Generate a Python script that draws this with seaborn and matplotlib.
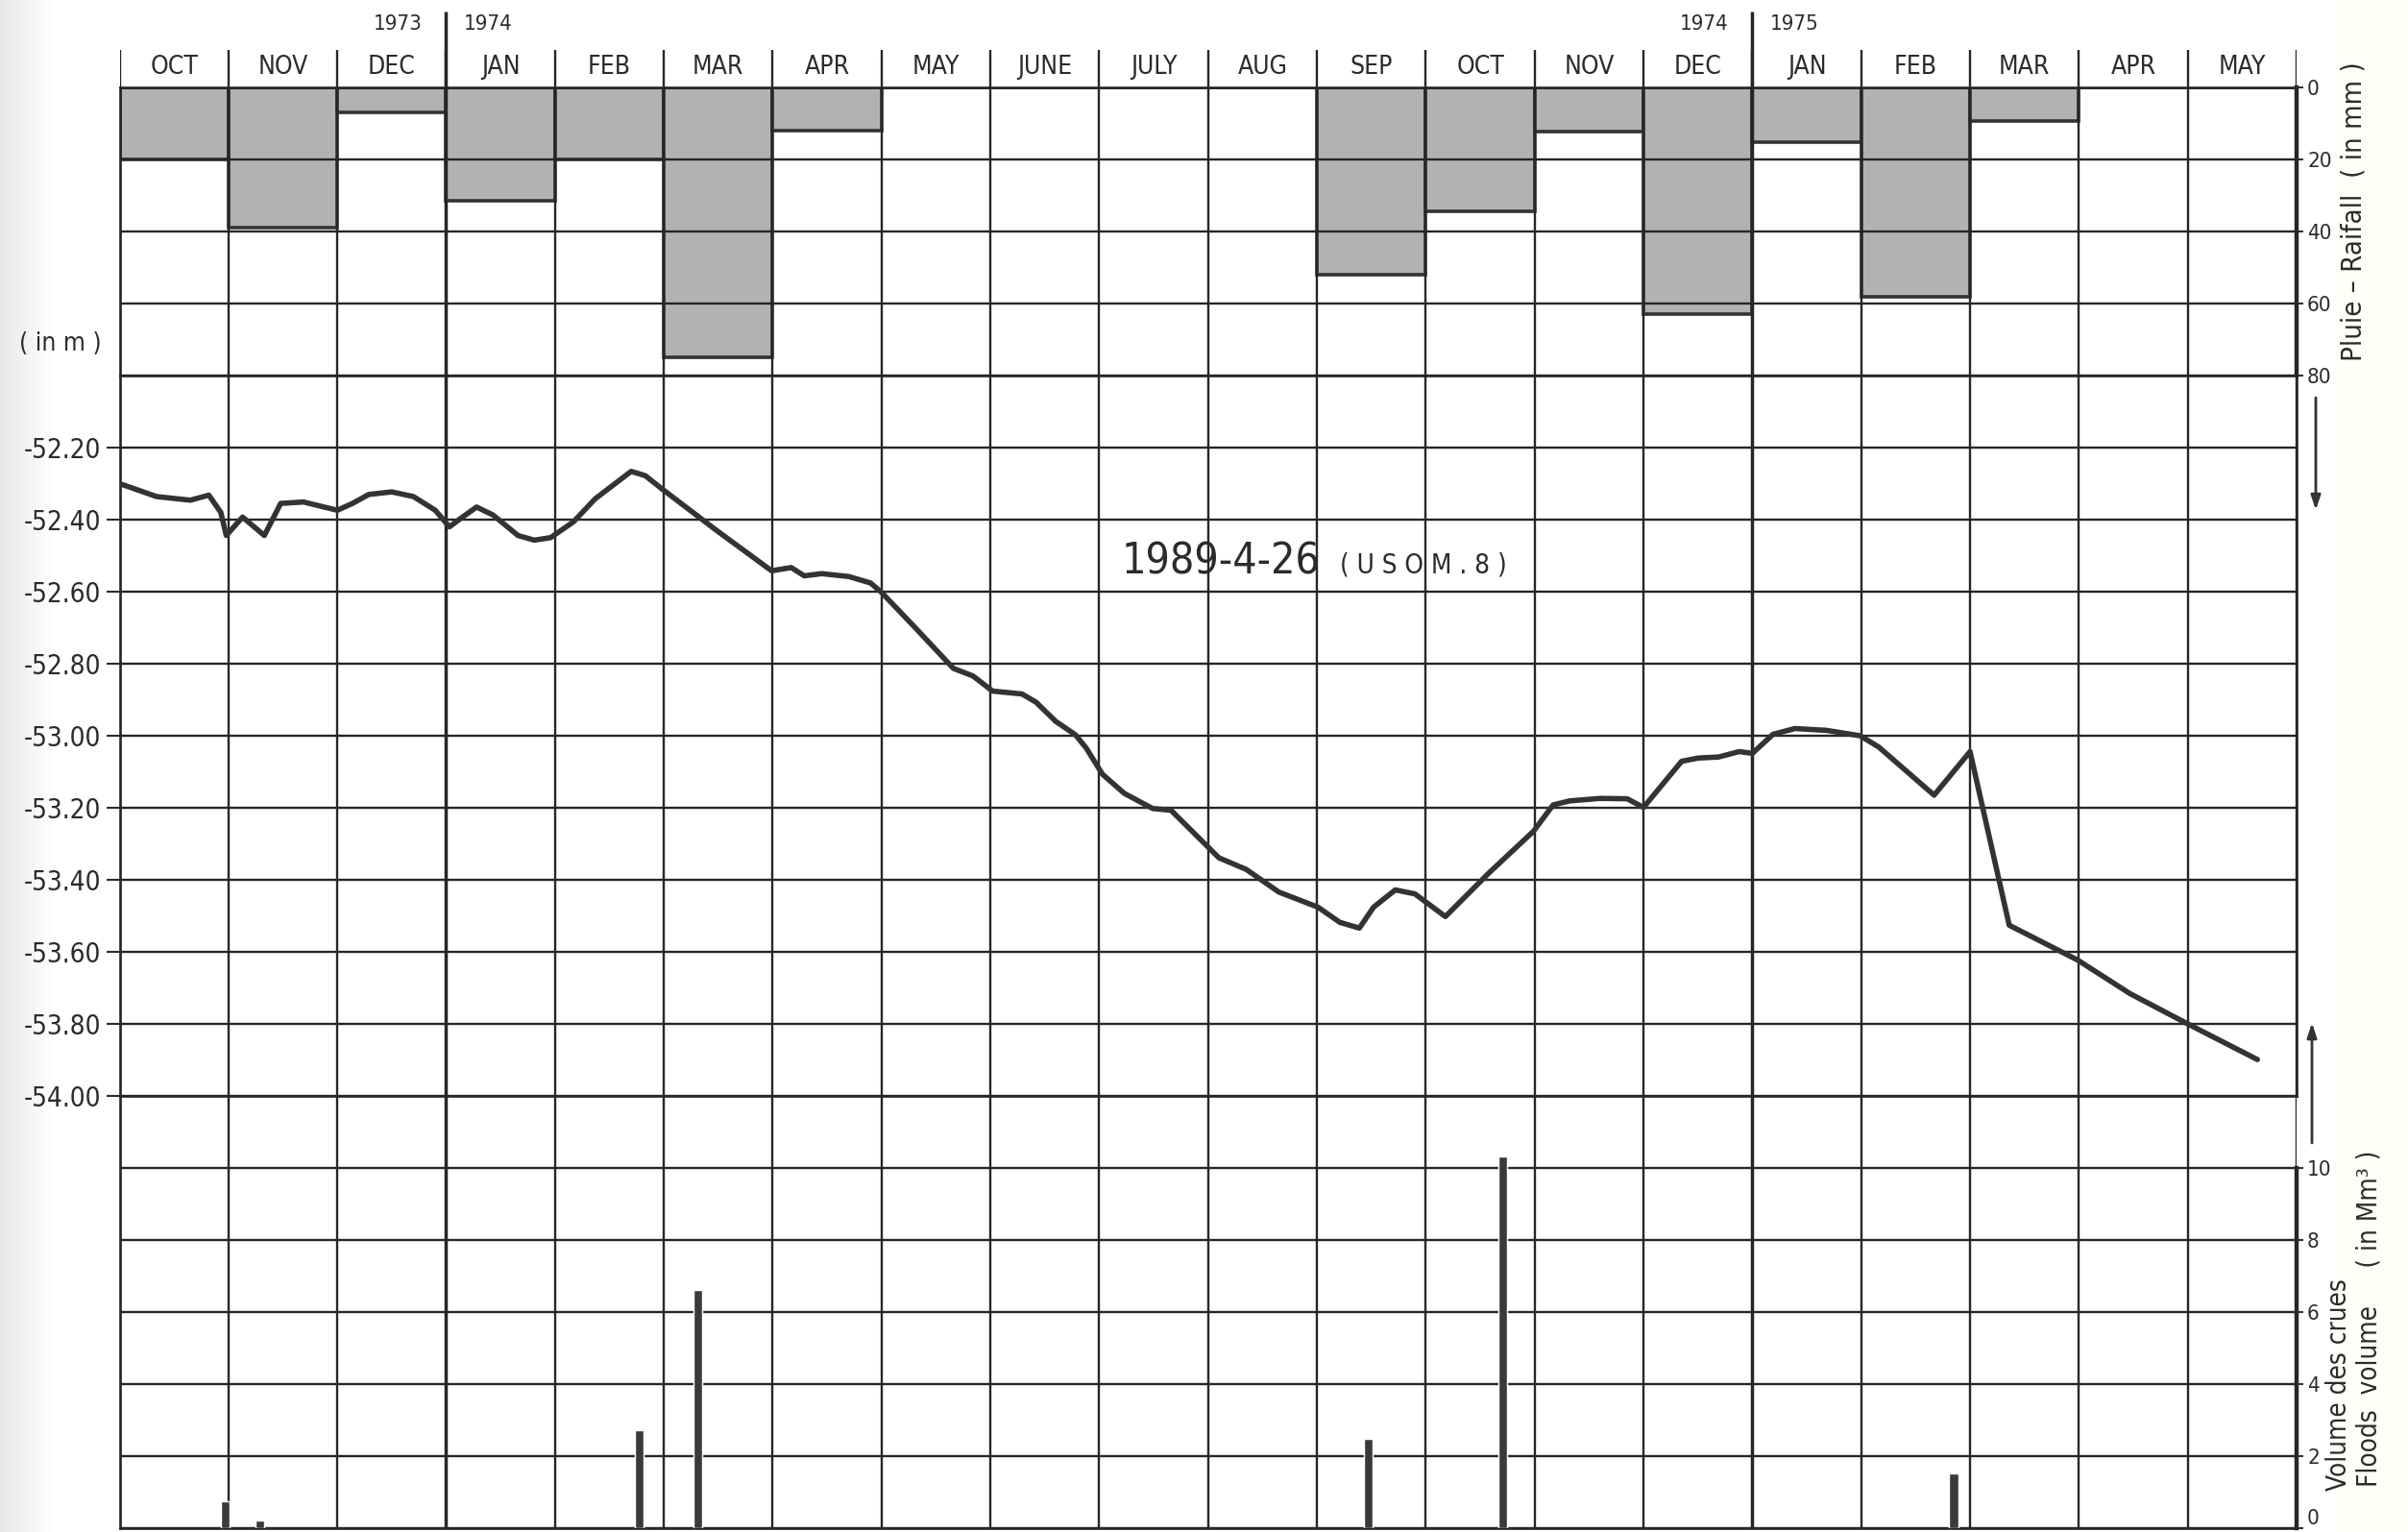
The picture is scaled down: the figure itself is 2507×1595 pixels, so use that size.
import numpy as np
import matplotlib
matplotlib.use("Agg")
import matplotlib.pyplot as plt
import seaborn as sns

# ---------------- data ----------------
months = ["OCT", "NOV", "DEC", "JAN", "FEB", "MAR", "APR", "MAY", "JUNE", "JULY",
          "AUG", "SEP", "OCT", "NOV", "DEC", "JAN", "FEB", "MAR", "APR", "MAY"]
year_breaks = [3, 15]
year_left = ["1973", "1974"]
year_right = ["1974", "1975"]

rain_mm = [20, 39, 7, 31.5, 20, 75, 12, 0, 0, 0, 0, 52, 34.5, 12.3, 63, 15.3, 58, 9.3, 0, 0]

level_t = [0.00, 0.34, 0.65, 0.82, 0.93, 0.98, 1.13, 1.33, 1.48, 1.69, 2.00, 2.14, 2.29,
           2.50, 2.70, 2.90, 3.03, 3.15, 3.28, 3.43, 3.66, 3.81, 3.96, 4.17, 4.37, 4.70,
           4.83, 4.98, 5.48, 5.99, 6.17, 6.29, 6.45, 6.70, 6.90, 7.00, 7.30, 7.66, 7.84,
           8.02, 8.29, 8.42, 8.60, 8.78, 8.88, 9.03, 9.23, 9.49, 9.66, 9.89, 10.10, 10.35,
           10.65, 11.01, 11.21, 11.39, 11.52, 11.72, 11.90, 12.18, 12.58, 12.99, 13.17,
           13.32, 13.60, 13.85, 14.00, 14.35, 14.50, 14.69, 14.88, 15.00, 15.19, 15.39,
           15.68, 15.99, 16.16, 16.67, 17.00, 17.36, 17.99, 18.47, 19.00, 19.64]
level_m = [-52.300, -52.336, -52.346, -52.332, -52.380, -52.444, -52.393, -52.444, -52.355,
           -52.351, -52.374, -52.355, -52.330, -52.323, -52.336, -52.374, -52.420, -52.393,
           -52.365, -52.387, -52.444, -52.457, -52.450, -52.406, -52.342, -52.266, -52.278,
           -52.314, -52.429, -52.542, -52.533, -52.556, -52.550, -52.558, -52.576, -52.602,
           -52.697, -52.813, -52.834, -52.876, -52.884, -52.907, -52.960, -52.997, -53.034,
           -53.107, -53.160, -53.202, -53.207, -53.276, -53.339, -53.371, -53.434, -53.476,
           -53.518, -53.534, -53.476, -53.428, -53.439, -53.502, -53.381, -53.265, -53.192,
           -53.181, -53.174, -53.175, -53.199, -53.071, -53.062, -53.059, -53.044, -53.049,
           -52.996, -52.980, -52.985, -53.000, -53.031, -53.165, -53.044, -53.526, -53.623,
           -53.716, -53.800, -53.899]

flood_t = [0.97, 1.29, 4.77, 5.31, 11.47, 12.71, 16.85]
flood_vol = [0.76, 0.22, 2.72, 6.61, 2.48, 10.33, 1.52]

rain_ticks = [0, 20, 40, 60, 80]
level_ticks = [-52.2, -52.4, -52.6, -52.8, -53.0, -53.2, -53.4, -53.6, -53.8, -54.0]
level_ticklabels = ["-52.20", "-52.40", "-52.60", "-52.80", "-53.00", "-53.20",
                    "-53.40", "-53.60", "-53.80", "-54.00"]
flood_ticks = [0, 2, 4, 6, 8, 10]

# ---------------- style ----------------
sns.set_style("white")
plt.rcParams["font.family"] = ["DejaVu Sans"]
plt.rcParams["font.stretch"] = "condensed"

INK = "#2b2b2b"
GRID = "#262626"
W, H = 2507, 1595
fig = plt.figure(figsize=(W / 100, H / 100), dpi=100)
fig.patch.set_facecolor("white")

# subtle paper shading on the left margin
bg = fig.add_axes([0, 0, 1, 1], zorder=-10)
xx = np.arange(W)
shade = 1 - 0.09 * np.clip(1 - xx / 55.0, 0, 1)
cream = np.where(xx > 2430, 0.025, 0.0)
img = np.dstack([shade, shade, shade - cream])
bg.imshow(np.clip(img, 0, 1), extent=[0, 1, 0, 1], aspect="auto")
bg.axis("off")

LEFT, RIGHT = 124.5, 2391.0
TOP, ROW = 91.0, 75.0


def fig_axes(y_top, y_bot, **kw):
    return fig.add_axes([LEFT / W, 1 - y_bot / H, (RIGHT - LEFT) / W, (y_bot - y_top) / H], **kw)


ax_head = fig_axes(0, TOP)
ax_rain = fig_axes(TOP, TOP + 4 * ROW)
ax_lvl = fig_axes(TOP + 4 * ROW, TOP + 14 * ROW)
ax_fl = fig_axes(TOP + 14 * ROW, TOP + 20 * ROW)

GLW = 1.7

# ---------------- header ----------------
ax_head.set_xlim(0, 20)
ax_head.set_ylim(TOP, 0)
ax_head.axis("off")
ax_head.vlines(np.arange(21), 52, TOP, color=GRID, lw=GLW)
ax_head.vlines(year_breaks, 12, TOP, color=GRID, lw=2.5)
for i, m in enumerate(months):
    ax_head.text(i + 0.5, 70, m, ha="center", va="center", fontsize=19, color=INK)
for xb, yl, yr in zip(year_breaks, year_left, year_right):
    ax_head.text(xb - 0.22, 25, yl, ha="right", va="center", fontsize=16, color=INK)
    ax_head.text(xb + 0.16, 25, yr, ha="left", va="center", fontsize=16, color=INK)

# ---------------- rainfall ----------------
sns.barplot(x=np.arange(len(rain_mm)) + 0.5, y=rain_mm, native_scale=True, width=1.0,
            color="#b2b2b2", saturation=1, edgecolor="#333333", linewidth=2.6,
            errorbar=None, ax=ax_rain)
ax_rain.set_ylim(80, 0)
ax_rain.set_yticks(rain_ticks)
ax_rain.yaxis.tick_right()
ax_rain.tick_params(axis="y", left=False, right=True, direction="out", length=5,
                    width=1.4, labelsize=16, pad=3, colors=INK)

# ---------------- water level ----------------
sns.lineplot(x=level_t, y=level_m, sort=False, estimator=None, color="#333333",
             lw=4.0, ax=ax_lvl, zorder=4)
ax_lvl.set_ylim(-54, -52)
ax_lvl.set_yticks(level_ticks)
ax_lvl.set_yticklabels(level_ticklabels)
ax_lvl.tick_params(axis="y", left=True, right=False, direction="out", length=10,
                   width=1.5, labelsize=20, pad=4, colors=INK)

# ---------------- floods ----------------
native = np.min(np.diff(np.sort(flood_t)))
sns.barplot(x=flood_t, y=flood_vol, native_scale=True, width=0.08 / native,
            color="#3a3a3a", saturation=1, errorbar=None, ax=ax_fl, zorder=4)
ax_fl.set_ylim(0, 12)
ax_fl.set_yticks(flood_ticks)
ax_fl.yaxis.tick_right()
ax_fl.tick_params(axis="y", left=False, right=True, direction="out", length=5,
                  width=1.4, labelsize=16, pad=3, colors=INK)
ax_fl.get_yticklabels()[0].set_va("bottom")

# ---------------- common grid ----------------
for ax in (ax_rain, ax_lvl, ax_fl):
    ax.set_xlim(0, 20)
    ax.set_xticks(np.arange(21))
    ax.tick_params(axis="x", bottom=False, top=False, labelbottom=False, labeltop=False)
    ax.grid(True, color=GRID, lw=GLW)
    ax.set_axisbelow(False)
    ax.set_xlabel("")
    ax.set_ylabel("")
    for s in ax.spines.values():
        s.set_color(GRID)
        s.set_linewidth(1.9)
    gl = ax.get_xgridlines()
    for b in year_breaks:
        gl[b].set_linewidth(2.5)
for ax in (ax_rain, ax_fl):
    ax.spines["right"].set_linewidth(3.2)
ax_fl.spines["right"].set_bounds(0, 10)

# ---------------- texts ----------------
def ftext(x, y, s, **kw):
    kw.setdefault("color", INK)
    return fig.text(x / W, 1 - y / H, s, **kw)


ftext(63, 358, "( in m )", ha="center", va="center", fontsize=19)
ftext(1168, 598, "1989-4-26", ha="left", va="baseline", fontsize=32)
ftext(1395, 596, "( U S O M . 8 )", ha="left", va="baseline", fontsize=20)
ftext(2450, 376, "Pluie – Raifall  ( in mm )", rotation=90, rotation_mode="anchor",
      ha="left", va="center", fontsize=21)
ftext(2435, 1552, "Volume des crues", rotation=90, rotation_mode="anchor", ha="left",
      va="center", fontsize=20)
ftext(2467, 1548, "Floods  volume     ( in Mm³ )", rotation=90, rotation_mode="anchor",
      ha="left", va="center", fontsize=20)

arrow_kw = dict(arrowstyle="-|>,head_length=0.9,head_width=0.3", color="#333333", lw=2,
                shrinkA=0, shrinkB=0)
ax_lvl.annotate("", xy=(2411, H - 531), xytext=(2411, H - 414), xycoords="figure pixels",
                textcoords="figure pixels", arrowprops=arrow_kw, annotation_clip=False)
ax_lvl.annotate("", xy=(2407, H - 1065), xytext=(2407, H - 1190), xycoords="figure pixels",
                textcoords="figure pixels", arrowprops=arrow_kw, annotation_clip=False)

fig.savefig("out.png", dpi=100)
